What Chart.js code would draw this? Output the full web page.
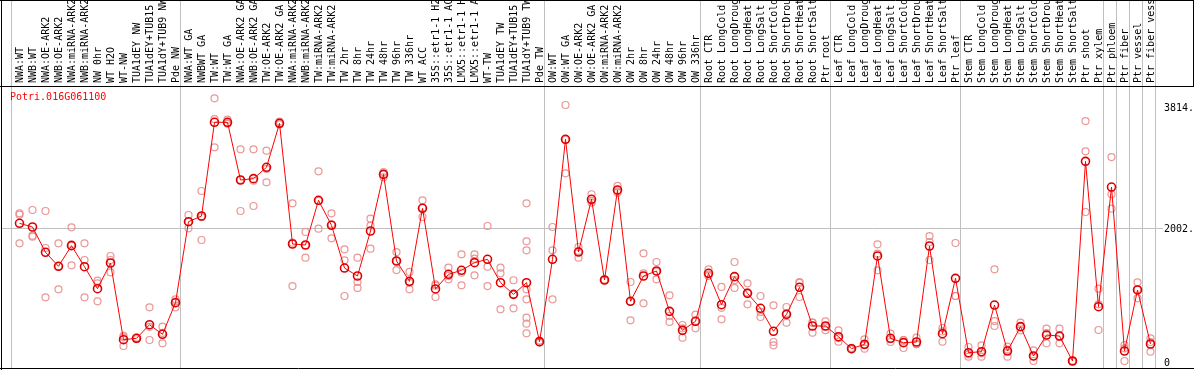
<!DOCTYPE html>
<html>
<head>
<meta charset="utf-8">
<script src="https://cdn.jsdelivr.net/npm/chart.js@4"></script>
<style>
  body { margin: 0; background: #fff; }
  canvas { display: block; }
</style>
</head>
<body>
<canvas id="grafico" width="1194" height="370"></canvas>
<script>
// Nombre del gen
const gen = 'Potri.016G061100';

// Muestras (eje X, arriba)
const categorias = [
  'NWA:WT', 'NWB:WT', 'NWA:OE-ARK2', 'NWB:OE-ARK2', 'NWA:miRNA-ARK2', 'NWB:miRNA-ARK2', 'NW 0hr', 'WT H2O', 'WT-NW',
  'TUA1dEY NW', 'TUA1dEY+TUB15', 'TUA1dY+TUB9 NW', 'Pde NW',
  'NWA:WT GA', 'NWBWT GA', 'TW:WT', 'TW:WT GA', 'NWA:OE-ARK2 GA', 'NWB:OE-ARK2 GA', 'TW:OE-ARK2', 'TW:OE-ARK2 GA',
  'NWA:miRNA-ARK2', 'NWB:miRNA-ARK2', 'TW:miRNA-ARK2', 'TW:miRNA-ARK2', 'TW 2hr', 'TW 8hr', 'TW 24hr', 'TW 48hr',
  'TW 96hr', 'TW 336hr', 'WT ACC', '35S::etr1-1 H2', '35S::etr1-1 AC', 'LMX5::etr1-1 H', 'LMX5::etr1-1 A', 'WT-TW',
  'TUA1dEY TW', 'TUA1dEY+TUB15', 'TUA1dY+TUB9 TW', 'Pde TW',
  'OW:WT', 'OW:WT GA', 'OW:OE-ARK2', 'OW:OE-ARK2 GA', 'OW:miRNA-ARK2', 'OW:miRNA-ARK2', 'OW 2hr', 'OW 8hr',
  'OW 24hr', 'OW 48hr', 'OW 96hr', 'OW 336hr',
  'Root CTR', 'Root LongCold', 'Root LongDroug', 'Root LongHeat', 'Root LongSalt', 'Root ShortCold', 'Root ShortDrou',
  'Root ShortHeat', 'Root ShortSalt', 'Ptr root',
  'Leaf CTR', 'Leaf LongCold', 'Leaf LongDroug', 'Leaf LongHeat', 'Leaf LongSalt', 'Leaf ShortCold', 'Leaf ShortDrou',
  'Leaf ShortHeat', 'Leaf ShortSalt', 'Ptr leaf',
  'Stem CTR', 'Stem LongCold', 'Stem LongDroug', 'Stem LongHeat', 'Stem LongSalt', 'Stem ShortCold', 'Stem ShortDrou',
  'Stem ShortHeat', 'Stem ShortSalt', 'Ptr shoot', 'Ptr xylem', 'Ptr phloem', 'Ptr fiber', 'Ptr vessel', 'Ptr fiber vess'
];

// Promedio por muestra
const promedios = [
  2072, 2017, 1639, 1430, 1738, 1424, 1095, 1479, 333, 354, 557, 414, 886,
  2096, 2181, 3581, 3581, 2719, 2739, 2909, 3566, 1763, 1748, 2416, 2042, 1404, 1285, 1957, 2803,
  1509, 1205, 2296, 1091, 1310, 1370, 1484, 1534, 1185, 1011, 1185, 304,
  1534, 3327, 1643, 2431, 1225, 2570, 907, 1285, 1360, 757, 473, 608,
  1325, 856, 1275, 1026, 802, 459, 712, 1116, 538, 538,
  378, 199, 264, 1584, 354, 289, 299, 1733, 423, 1250,
  139, 154, 851, 164, 528, 90, 403, 388, 15, 2998, 826, 2614, 164, 1076, 269
];

// Replicas por muestra
const replicas = [
  [2221, 2200, 1773], [2271, 1887, 1872], [2256, 1703, 966], [1773, 1086, 1431], [2012, 1445, 1757],
  [1773, 1524, 966], [1215, 1176, 907], [1584, 1524, 1340], [369, 239, 390], [360, 340, 362],
  [817, 329, 525], [528, 279, 435], [937, 817, 904],
  [2196, 1997, 2095], [2555, 1823, 2165], [3940, 3630, 3208], [3620, 3560, 3565], [3178, 2256, 2723],
  [3178, 2331, 2708], [3157, 2685, 2885], [3590, 3560, 3548], [2371, 1135, 1783], [1942, 1558, 1744],
  [2849, 1992, 2407], [2221, 1848, 2057], [1684, 1519, 986], [1558, 1195, 1106], [2141, 1693, 2037],
  [2839, 2810, 2760], [1643, 1374, 1510], [1345, 1086, 1184], [2416, 2166, 2306], [1161, 971, 1141],
  [1409, 1235, 1286], [1609, 1334, 1146], [1609, 1543, 1295], [2032, 1424, 1135], [1409, 1325, 787],
  [1221, 802, 1010], [2371, 1803, 1669, 1086, 937, 662, 572, 428], [290, 320, 300],
  [2017, 1669, 937], [3840, 2819, 3322], [1718, 1558, 1653], [2506, 2380, 2407], [1230, 1220, 1225],
  [2630, 2530, 2550], [1195, 623, 903], [1624, 1325, 877], [1494, 1235, 1351], [996, 687, 598],
  [553, 363, 503], [707, 503, 614],
  [1385, 1285, 1305], [1121, 638, 809], [1494, 1106, 1225], [1176, 862, 1040], [986, 672, 748],
  [847, 299, 249], [822, 587, 727], [1195, 971, 1182], [587, 438, 589], [608, 530, 476],
  [473, 304, 358], [210, 190, 197], [339, 199, 254], [1758, 1618, 1370], [423, 299, 340],
  [329, 209, 329], [363, 264, 270], [1882, 1524, 1793], [508, 304, 457], [1778, 986, 986],
  [224, 80, 113], [249, 130, 80], [1385, 612, 538], [229, 80, 184], [587, 473, 523],
  [175, 15, 80], [498, 279, 432], [498, 279, 388], [15, 10, 20], [3600, 3148, 2241],
  [1095, 862, 478], [3062, 2506, 2291], [254, 205, 15], [1191, 952, 1085], [354, 154, 299]
];

// Inicio de cada grupo (lineas verticales grises)
const iniciosGrupo = [0, 13, 41, 53, 63, 73, 84, 85, 86, 87, 88];

// Marcas del eje Y (derecha)
const marcasY = [0, 2002, 3814];
const etiquetasY = ['0', '2002.', '3814.'];

const fuente = '"DejaVu Sans Mono", monospace';

// Puntos de las replicas como {x: indice de muestra, y}
const puntosReplicas = [];
replicas.forEach((lista, i) => {
  lista.forEach(v => puntosReplicas.push({ x: i, y: v }));
});

// Plugin: marco, separadores, etiquetas y nombre del gen
const marco = {
  id: 'marco',
  beforeDatasetsDraw(chart) {
    const ctx = chart.ctx;
    const sx = chart.scales.x, sy = chart.scales.y;
    const paso = sx.getPixelForValue(1) - sx.getPixelForValue(0);
    ctx.save();
    ctx.lineWidth = 1;
    ctx.strokeStyle = '#c0c0c0';
    iniciosGrupo.forEach(i => {
      const px = Math.floor(sx.getPixelForValue(i) - paso / 2 - 2) + 0.5;
      ctx.beginPath();
      ctx.moveTo(px, 0);
      ctx.lineTo(px, chart.height - 1);
      ctx.stroke();
    });
    // linea horizontal en 2002
    const py = Math.round(sy.getPixelForValue(marcasY[1])) + 0.5;
    ctx.beginPath();
    ctx.moveTo(2, py);
    ctx.lineTo(sx.right + 6, py);
    ctx.stroke();
    ctx.restore();
  },
  afterDraw(chart) {
    const ctx = chart.ctx;
    const sx = chart.scales.x, sy = chart.scales.y;
    const W = chart.width, H = chart.height, top = chart.chartArea.top;
    ctx.save();
    // marco negro
    ctx.strokeStyle = '#000';
    ctx.lineWidth = 1;
    ctx.beginPath();
    ctx.moveTo(0, 0.5); ctx.lineTo(W, 0.5);
    ctx.moveTo(0, top + 0.5); ctx.lineTo(W, top + 0.5);
    ctx.moveTo(1.5, 0); ctx.lineTo(1.5, H);
    ctx.moveTo(W - 0.5, 0); ctx.lineTo(W - 0.5, top);
    ctx.moveTo(0, H - 1.5); ctx.lineTo(W, H - 1.5);
    ctx.stroke();

    // etiquetas de muestras, giradas
    ctx.fillStyle = '#000';
    ctx.font = '10px ' + fuente;
    ctx.textAlign = 'left';
    ctx.textBaseline = 'middle';
    categorias.forEach((nombre, i) => {
      ctx.save();
      ctx.translate(sx.getPixelForValue(i) + 0.5, top - 3);
      ctx.rotate(-Math.PI / 2);
      ctx.fillText(nombre, 0, 0);
      ctx.restore();
    });

    // etiquetas del eje Y
    marcasY.forEach((v, k) => {
      ctx.fillText(etiquetasY[k], sx.right + 7, Math.round(sy.getPixelForValue(v)) + 1);
    });

    // nombre del gen
    ctx.fillStyle = '#ff0000';
    ctx.fillText(gen, 10, top + 11);
    ctx.restore();
  }
};

const ctx = document.getElementById('grafico').getContext('2d');
new Chart(ctx, {
  type: 'line',
  data: {
    labels: categorias,
    datasets: [{
      label: gen,
      data: promedios,
      borderColor: '#ff0000',
      borderWidth: 1,
      tension: 0,
      pointRadius: 4,
      pointBorderWidth: 1.6,
      pointBorderColor: '#dd0000',
      pointBackgroundColor: 'transparent'
    }, {
      label: 'replicas',
      data: puntosReplicas,
      xAxisID: 'xr',
      showLine: false,
      pointRadius: 3.5,
      pointBorderWidth: 1.2,
      pointBorderColor: 'rgba(232, 140, 140, 0.9)',
      pointBackgroundColor: 'transparent'
    }]
  },
  options: {
    responsive: false,
    devicePixelRatio: 1,
    animation: false,
    layout: { autoPadding: false, padding: { left: 13, right: 0, top: 0, bottom: 1 } },
    plugins: {
      legend: { display: false },
      tooltip: { enabled: false }
    },
    scales: {
      x: {
        type: 'category',
        position: 'top',
        offset: true,
        grid: { display: false },
        border: { display: false },
        ticks: { display: false },
        afterFit: s => { s.height = 86; }
      },
      // eje lineal oculto para las replicas, alineado con las categorias
      xr: {
        type: 'linear',
        display: false,
        min: -0.5,
        max: categorias.length - 0.5
      },
      y: {
        position: 'right',
        min: -104.6,
        max: 4123.5,
        grid: { display: false, drawTicks: false },
        border: { display: false },
        ticks: { display: false },
        afterFit: s => { s.width = 37; }
      }
    }
  },
  plugins: [marco]
});
</script>
</body>
</html>
